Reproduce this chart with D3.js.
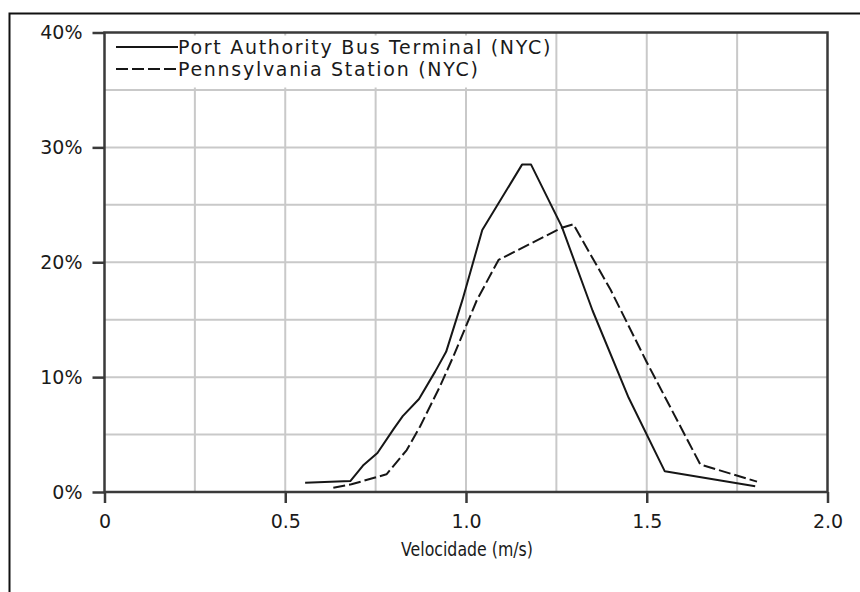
<!DOCTYPE html>
<html>
<head>
<meta charset="utf-8">
<script src="https://cdn.jsdelivr.net/npm/d3@7"></script>
<style>
  html, body { margin: 0; padding: 0; background: #fff; }
  svg { display: block; }
  text { font-family: "DejaVu Sans", Verdana, sans-serif; fill: #1a1a1a; }
</style>
</head>
<body>
<svg id="chart" width="860" height="592"></svg>
<script>
// Walking speed distributions at two New York terminals
const seriesNames = ["Port Authority Bus Terminal (NYC)", "Pennsylvania Station (NYC)"];

// Port Authority Bus Terminal: speed (m/s) and share of pedestrians (%)
const portSpeeds = [0.555, 0.68, 0.715, 0.755, 0.80, 0.825, 0.87, 0.915, 0.945, 0.99, 1.045, 1.155, 1.18, 1.265, 1.35, 1.45, 1.55, 1.80];
const portShares = [0.8, 0.95, 2.3, 3.4, 5.5, 6.6, 8.1, 10.5, 12.2, 16.7, 22.8, 28.5, 28.5, 23.1, 15.8, 8.2, 1.8, 0.5];

// Pennsylvania Station: speed (m/s) and share of pedestrians (%)
const pennSpeeds = [0.633, 0.683, 0.78, 0.836, 0.873, 0.928, 0.965, 1.03, 1.09, 1.265, 1.297, 1.40, 1.50, 1.648, 1.805];
const pennShares = [0.37, 0.67, 1.54, 3.65, 5.7, 9.2, 11.8, 16.7, 20.2, 23.0, 23.3, 17.6, 11.3, 2.4, 0.9];

const xTicks = [0, 0.5, 1.0, 1.5, 2.0];
const xTickLabels = ["0", "0.5", "1.0", "1.5", "2.0"];
const yTicks = [0, 10, 20, 30, 40];
const yTickLabels = ["0%", "10%", "20%", "30%", "40%"];
const xGrid = [0.25, 0.5, 0.75, 1.0, 1.25, 1.5, 1.75];
const yGrid = [5, 10, 15, 20, 25, 30, 35];
const xTitle = "Velocidade (m/s)";

const svg = d3.select("#chart");

const plotLeft = 104.5, plotRight = 827.5, plotTop = 32.5, plotBottom = 492;
const x = d3.scaleLinear().domain([0, 2]).range([plotLeft, plotRight]);
const y = d3.scaleLinear().domain([0, 40]).range([plotBottom, plotTop]);

// outer frame (open on the right and bottom)
svg.append("path")
  .attr("d", `M9.5,600 L9.5,13.5 L870,13.5`)
  .attr("fill", "none").attr("stroke", "#111").attr("stroke-width", 2);

// grid
const grid = svg.append("g").attr("stroke", "#c9c9c9").attr("stroke-width", 2);
grid.selectAll("line.v").data(xGrid).join("line").attr("class", "v")
  .attr("x1", d => x(d)).attr("x2", d => x(d))
  .attr("y1", plotTop).attr("y2", plotBottom);
grid.selectAll("line.h").data(yGrid).join("line").attr("class", "h")
  .attr("x1", plotLeft).attr("x2", plotRight)
  .attr("y1", d => y(d)).attr("y2", d => y(d));

// legend backdrop hides the grid behind the legend
svg.append("rect")
  .attr("x", plotLeft + 2).attr("y", plotTop + 3)
  .attr("width", 446).attr("height", 52)
  .attr("fill", "#fff");

// axes
const axisColor = "#3a3a3a";
const xAxis = d3.axisBottom(x).tickValues(xTicks)
  .tickFormat((d, i) => xTickLabels[i]).tickSize(11).tickPadding(12);
const gx = svg.append("g").attr("transform", `translate(0,${plotBottom})`).call(xAxis);
const yAxis = d3.axisLeft(y).tickValues(yTicks)
  .tickFormat((d, i) => yTickLabels[i]).tickSize(12).tickPadding(10);
const gy = svg.append("g").attr("transform", `translate(${plotLeft},0)`).call(yAxis);

[gx, gy].forEach(g => {
  g.select(".domain").remove();
  g.selectAll(".tick line").attr("stroke", axisColor).attr("stroke-width", 2.5);
  g.selectAll(".tick text")
    .attr("fill", "#1a1a1a")
    .style("font-family", '"DejaVu Sans", Verdana, sans-serif')
    .style("font-size", "19px");
});

// plot frame
svg.append("rect")
  .attr("x", plotLeft).attr("y", plotTop)
  .attr("width", plotRight - plotLeft).attr("height", plotBottom - plotTop)
  .attr("fill", "none").attr("stroke", axisColor).attr("stroke-width", 2.5);

// x axis title, set in a narrow run
svg.append("text")
  .attr("x", x(1.0) - 65).attr("y", 556)
  .attr("textLength", 132)
  .attr("lengthAdjust", "spacingAndGlyphs")
  .style("font-size", "20px")
  .text(xTitle);

// curves
const line = d3.line().x(d => x(d[0])).y(d => y(d[1]));
const portData = d3.zip(portSpeeds, portShares);
const pennData = d3.zip(pennSpeeds, pennShares);
const dash = "12,4";

svg.append("path").datum(portData)
  .attr("d", line)
  .attr("fill", "none").attr("stroke", "#161616").attr("stroke-width", 2)
  .attr("stroke-linejoin", "round");
svg.append("path").datum(pennData)
  .attr("d", line)
  .attr("fill", "none").attr("stroke", "#161616").attr("stroke-width", 2)
  .attr("stroke-dasharray", dash).attr("stroke-linejoin", "round");

// legend
const legend = svg.append("g");
const rows = [{ name: seriesNames[0], dash: null, y: 47 }, { name: seriesNames[1], dash: dash, y: 69 }];
rows.forEach(r => {
  legend.append("line")
    .attr("x1", 116).attr("x2", 178)
    .attr("y1", r.y).attr("y2", r.y)
    .attr("stroke", "#161616").attr("stroke-width", 2)
    .attr("stroke-dasharray", r.dash);
  legend.append("text")
    .attr("x", 178).attr("y", r.y + 7)
    .style("font-size", "19px")
    .style("letter-spacing", "1.7px")
    .text(r.name);
});
</script>
</body>
</html>
